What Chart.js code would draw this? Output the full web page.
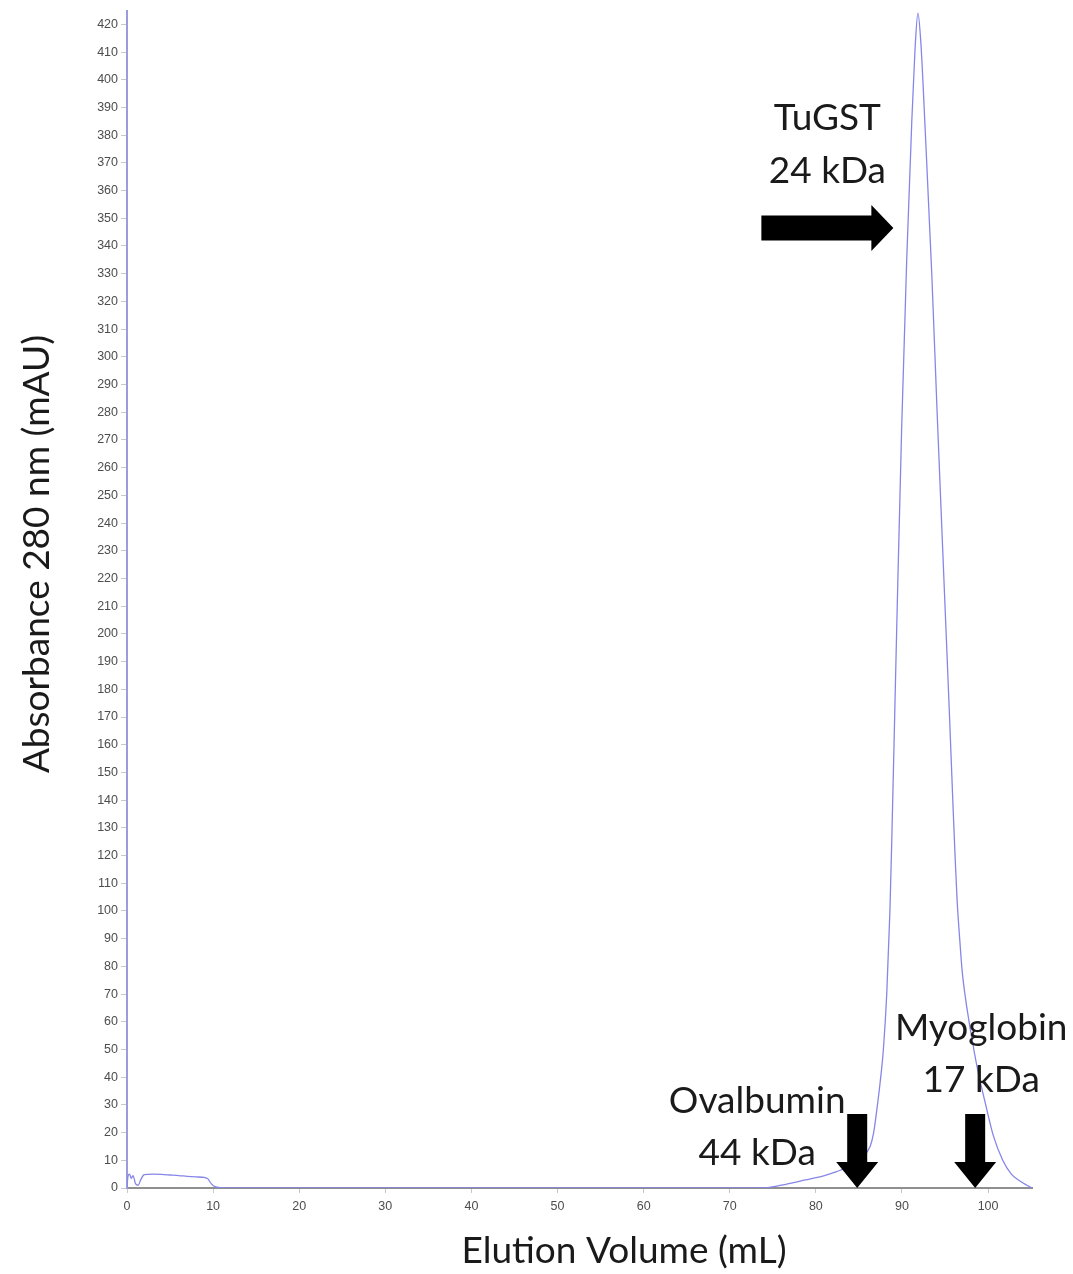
<!DOCTYPE html>
<html>
<head>
<meta charset="utf-8">
<script src="https://cdn.jsdelivr.net/npm/chart.js@4.4.1/dist/chart.umd.min.js"></script>
<style>
  html, body { margin: 0; padding: 0; background: #ffffff; }
  #wrap { width: 1073px; height: 1274px; position: relative; }
</style>
</head>
<body>
<div id="wrap"><canvas id="chart" width="1073" height="1274"></canvas></div>
<script>
// Size-exclusion chromatogram: UV absorbance at 280 nm against elution volume
const elutionVolume = [
  0, 0.1, 0.3, 0.5, 0.7, 1.0, 1.3, 1.6, 2.0, 3, 4, 5, 6, 7, 8, 9, 9.4, 9.8, 10.2, 11, 12,
  20, 30, 40, 50, 60, 70, 73.5, 76, 78.8, 81, 82.4, 84, 85.3, 86.3, 86.7, 87.07, 87.46,
  87.84, 88.23, 88.6, 88.85, 89.15, 89.45, 89.97, 90.55, 91.14, 91.5, 91.85, 92.2, 92.68,
  93.46, 94.08, 95.0, 95.5, 95.9, 96.15, 96.4, 96.7, 97.0, 97.4, 97.9, 98.4, 98.9, 99.65,
  100.6, 101.7, 102.7, 103.7, 104.5, 105.1
];
const absorbance280 = [
  0, 4, 5, 3.5, 4.5, 1.5, 1, 3, 4.8, 5.0, 4.9, 4.7, 4.5, 4.2, 4.0, 3.8, 3.3, 1.5, 0.5, 0.1, 0,
  0, 0, 0, 0, 0, 0, 0, 1, 2.9, 4.5, 5.9, 8, 11, 15, 19.8, 28, 38,
  50, 70, 100, 130, 170, 210, 275, 335, 385, 410, 424, 413, 383,
  330, 280, 210, 172, 140, 121, 104, 90, 78, 68, 58, 49, 41, 31,
  19, 10, 5, 2.5, 1, 0
];

const volumeTicks = [0, 10, 20, 30, 40, 50, 60, 70, 80, 90, 100];
const absorbanceTicks = [
  0, 10, 20, 30, 40, 50, 60, 70, 80, 90, 100, 110, 120, 130, 140, 150, 160, 170, 180, 190,
  200, 210, 220, 230, 240, 250, 260, 270, 280, 290, 300, 310, 320, 330, 340, 350, 360, 370,
  380, 390, 400, 410, 420
];

// Marker proteins and the elution points their arrows indicate
const markerNames = [['TuGST', '24 kDa'], ['Ovalbumin', '44 kDa'], ['Myoglobin', '17 kDa']];
const markerVolume = [89.0, 84.8, 98.5];
const markerAbsorbance = [346.5, 0, 0];

const xTitle = 'Elution Volume (mL)';
const yTitle = 'Absorbance 280 nm (mAU)';

// Arrow shapes and label placement (pixels, relative to arrow tips)
const markerStyle = [
  { dir: 'right', textDx: -66, lineDy: [-98, -45] },
  { dir: 'down',  textDx: -100, lineDy: [-75, -23] },
  { dir: 'down',  textDx: 6,   lineDy: [-148, -96] }
];
const LABEL_FONT = '37px Lato';

function drawArrow(ctx, x, y, dir) {
  ctx.beginPath();
  if (dir === 'down') {
    ctx.moveTo(x - 10, y - 74);
    ctx.lineTo(x + 10, y - 74);
    ctx.lineTo(x + 10, y - 26);
    ctx.lineTo(x + 21, y - 26);
    ctx.lineTo(x, y);
    ctx.lineTo(x - 21, y - 26);
    ctx.lineTo(x - 10, y - 26);
  } else {
    ctx.moveTo(x - 132, y - 12.5);
    ctx.lineTo(x - 22, y - 12.5);
    ctx.lineTo(x - 22, y - 23);
    ctx.lineTo(x, y);
    ctx.lineTo(x - 22, y + 23);
    ctx.lineTo(x - 22, y + 12.5);
    ctx.lineTo(x - 132, y + 12.5);
  }
  ctx.closePath();
  ctx.fill();
}

const markerPlugin = {
  id: 'markerArrows',
  afterDraw(chart) {
    const ctx = chart.ctx;
    const xs = chart.scales.x, ys = chart.scales.y;
    ctx.save();
    markerNames.forEach((lines, i) => {
      const tx = xs.getPixelForValue(markerVolume[i]);
      const ty = ys.getPixelForValue(markerAbsorbance[i]);
      const st = markerStyle[i];
      ctx.fillStyle = '#000000';
      drawArrow(ctx, tx, ty, st.dir);
      ctx.font = LABEL_FONT;
      ctx.fillStyle = '#1a1a1a';
      ctx.textAlign = 'center';
      ctx.textBaseline = 'alphabetic';
      lines.forEach((t, k) => ctx.fillText(t, tx + st.textDx, ty + st.lineDy[k]));
    });

    // axis titles
    ctx.fillStyle = '#1a1a1a';
    ctx.font = LABEL_FONT;
    ctx.textAlign = 'center';
    ctx.textBaseline = 'alphabetic';
    ctx.fillText(xTitle, 624, 1263);
    ctx.translate(49, 554);
    ctx.rotate(-Math.PI / 2);
    ctx.fillText(yTitle, 0, 0);
    ctx.restore();
  }
};

new Chart(document.getElementById('chart'), {
  type: 'line',
  data: {
    datasets: [{
      data: elutionVolume.map((v, i) => ({ x: v, y: absorbance280[i] })),
      borderColor: '#8686e8',
      borderWidth: 1.3,
      pointRadius: 0,
      fill: false,
      cubicInterpolationMode: 'monotone'
    }]
  },
  options: {
    responsive: false,
    animation: false,
    layout: { padding: { top: 8, right: 41, bottom: 0, left: 0 } },
    plugins: { legend: { display: false }, tooltip: { enabled: false } },
    scales: {
      x: {
        type: 'linear',
        min: 0,
        max: 105.1,
        z: 1,
        afterBuildTicks: s => { s.ticks = volumeTicks.map(v => ({ value: v })); },
        afterFit: s => { s.height = 86; },
        border: { color: '#8f8f8f', width: 2 },
        grid: { drawOnChartArea: false, drawTicks: true, tickLength: 5, color: '#c8c8c8' },
        ticks: { color: '#4d4d4d', font: { family: 'Liberation Sans', size: 12.5 }, padding: 6, maxRotation: 0, autoSkip: false }
      },
      y: {
        type: 'linear',
        min: 0,
        max: 425,
        afterBuildTicks: s => { s.ticks = absorbanceTicks.map(v => ({ value: v })); },
        afterFit: s => { s.width = 127; },
        border: { color: '#9c9cdc', width: 2 },
        grid: { drawOnChartArea: false, drawTicks: true, tickLength: 6, color: '#c8c8c8' },
        ticks: { color: '#4d4d4d', font: { family: 'Liberation Sans', size: 12.5 }, padding: 3, autoSkip: false }
      }
    }
  },
  plugins: [markerPlugin]
});
</script>
</body>
</html>
